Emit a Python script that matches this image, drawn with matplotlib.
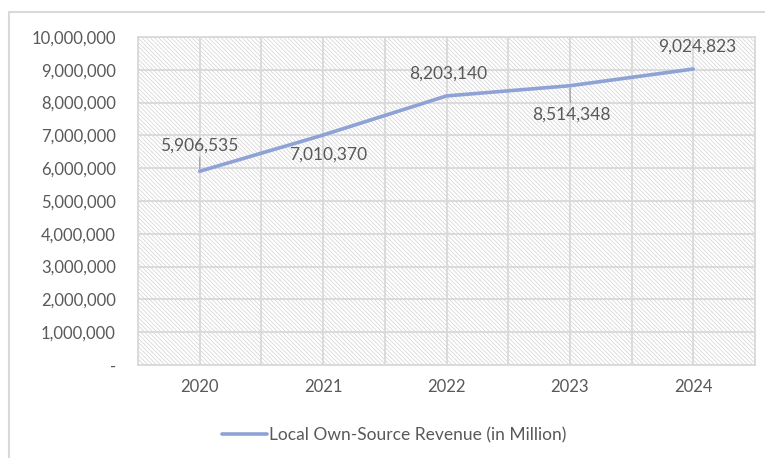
import numpy as np
import matplotlib.pyplot as plt
from matplotlib.patches import Rectangle

plt.rcParams['font.family'] = ['Lato', 'DejaVu Sans']
plt.rcParams['hatch.linewidth'] = 0.5
plt.rcParams['hatch.color'] = '#D2D2D2'

years = ['2020', '2021', '2022', '2023', '2024']
revenue = [5906535, 7010370, 8203140, 8514348, 9024823]
# label offset in pixels (dx, dy) - positive dy is up
label_off = [(0, 26), (5, -20), (2, 22), (1, -29), (4, 22)]
leader = [True, False, False, True, False]

txt = '#595959'
grid = '#D9D9D9'
linec = '#8FA2D6'

fig = plt.figure(figsize=(7.65, 4.58), dpi=100)
# chart border
fig.patches.append(Rectangle((9/765, -0.1), 1.2, 1 - 12/458 + 0.1, transform=fig.transFigure,
                             fill=False, edgecolor=grid, linewidth=1.5))

ax = fig.add_axes([138/765, 1 - 365/458, 617/765, 328/458])
x = np.arange(len(years))
ax.set_xlim(-0.5, len(years) - 0.5)
ax.set_ylim(0, 10000000)

# hatched plot area
ax.add_patch(Rectangle((0, 0), 1, 1, transform=ax.transAxes, facecolor='white',
                       hatch='\\' * 8, edgecolor='#D2D2D2', linewidth=0, zorder=0))

yt = np.arange(0, 10000001, 1000000)
ax.set_yticks(yt)
ax.set_yticklabels(['-'] + ['{:,}'.format(v) for v in yt[1:]])
ax.set_xticks(x)
ax.set_xticklabels(years)
ax.set_xticks(np.arange(-0.5, len(years), 1.0), minor=True)
ax.grid(True, which='major', color=grid, linewidth=1.3, zorder=1)
ax.grid(True, which='minor', axis='x', color=grid, linewidth=1.3, zorder=1)
ax.set_axisbelow(True)
ax.tick_params(axis='both', which='both', length=0, colors=txt, labelsize=12)
ax.tick_params(axis='y', pad=16)
ax.tick_params(axis='x', pad=10)
for s in ax.spines.values():
    s.set_color(grid)
    s.set_linewidth(1.3)

ax.plot(x, revenue, color=linec, linewidth=2.6, solid_capstyle='round',
        label='Local Own-Source Revenue (in Million)', zorder=3)

for xi, v, (dx, dy), ld in zip(x, revenue, label_off, leader):
    ap = dict(arrowstyle='-', color='#A6A6A6', linewidth=1, shrinkA=1, shrinkB=2) if ld else None
    ax.annotate('{:,}'.format(v), (xi, v), xytext=(dx*0.72, dy*0.72), textcoords='offset points',
                ha='center', va='center', fontsize=12.5, color=txt, arrowprops=ap, zorder=4)

ax.legend(loc='center', bbox_to_anchor=(394/765, 1 - 435/458), bbox_transform=fig.transFigure,
          frameon=False, fontsize=12.5, labelcolor=txt, handlelength=2.6, handletextpad=0.1)

fig.savefig('out.png', dpi=100)
